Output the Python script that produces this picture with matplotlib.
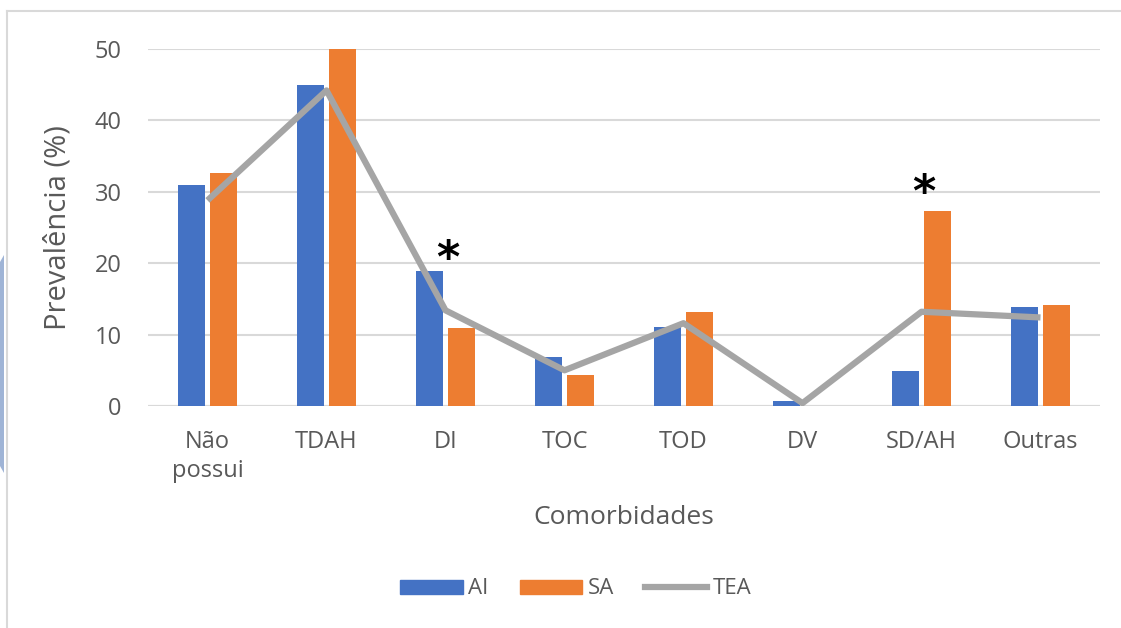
import matplotlib.pyplot as plt
import matplotlib.patches as mpatches
import numpy as np

categories = ["Não\npossui", "TDAH", "DI", "TOC", "TOD", "DV", "SD/AH", "Outras"]
ai_values = [31.0, 45.0, 18.9, 6.9, 11.0, 0.7, 4.9, 13.9]
sa_values = [32.7, 50.2, 10.9, 4.3, 13.2, 0.0, 27.3, 14.2]
tea_values = [28.8, 44.2, 13.4, 5.0, 11.6, 0.4, 13.2, 12.4]
star_idx = [2, 6]
star_heights = [20.5, 29.8]

BLUE = "#4472C4"
ORANGE = "#ED7D31"
GRAY = "#A5A5A5"
TXT = "#595959"

plt.rcParams['font.family'] = ['Open Sans', 'DejaVu Sans']

fig = plt.figure(figsize=(11.21, 6.28), dpi=100)
ax = fig.add_axes([148 / 1121, 1 - 406 / 628, 952 / 1121, (406 - 49) / 628])

x = np.arange(len(categories))
w = 0.22
ax.bar(x - 0.135, ai_values, w, color=BLUE, label="AI", zorder=2)
ax.bar(x + 0.135, sa_values, w, color=ORANGE, label="SA", zorder=2)
ax.plot(x, tea_values, color=GRAY, lw=4.5, label="TEA", zorder=3,
        solid_capstyle='butt')

for i, h in zip(star_idx, star_heights):
    ax.text(x[i] + 0.02, h, "*", ha='center', va='center', fontsize=32,
            fontweight='bold', color='black', family='DejaVu Sans')

ax.set_xlim(-0.5, len(categories) - 0.5)
ax.set_ylim(0, 50)
ax.set_yticks([0, 10, 20, 30, 40, 50])
ax.set_xticks(x)
ax.set_xticklabels(categories, fontsize=17, color=TXT, linespacing=1.3)
ax.tick_params(axis='y', labelsize=17, labelcolor=TXT, length=0, pad=19)
ax.tick_params(axis='x', length=0, pad=17)
ax.yaxis.grid(True, color="#D9D9D9", lw=1.5, zorder=0)
ax.set_axisbelow(True)
for s in ax.spines.values():
    s.set_visible(False)
ax.axhline(0, color="#D9D9D9", lw=1.5, zorder=1)

ax.set_ylabel("Prevalência (%)", fontsize=21, color=TXT, labelpad=16)
ax.set_xlabel("Comorbidades", fontsize=19, color=TXT, labelpad=16)

handles = [mpatches.Patch(color=BLUE, label="AI"),
           mpatches.Patch(color=ORANGE, label="SA"),
           plt.Line2D([], [], color=GRAY, lw=4.5, label="TEA")]
fig.legend(handles=handles, loc='center', bbox_to_anchor=(576 / 1121, 1 - 589 / 628),
           ncol=3, frameon=False, fontsize=16, labelcolor=TXT,
           handlelength=2.8, handleheight=0.6, columnspacing=1.4, handletextpad=0.25)

# outer frame and left edge decoration
fig.add_artist(plt.Line2D([7 / 1121, 7 / 1121], [1 - 627 / 628, 1 - 11 / 628],
                          transform=fig.transFigure, color="#D9D9D9", lw=1.5))
fig.add_artist(plt.Line2D([7 / 1121, 1.0], [1 - 11 / 628, 1 - 11 / 628],
                          transform=fig.transFigure, color="#D9D9D9", lw=1.5))
fig.add_artist(mpatches.Polygon([[0, 1 - 262 / 628], [4 / 1121, 1 - 255 / 628],
                                 [4 / 1121, 1 - 473 / 628], [0, 1 - 466 / 628]],
                                closed=True, transform=fig.transFigure,
                                color="#9FB4D6", lw=0))

fig.savefig("out.png", dpi=100)
